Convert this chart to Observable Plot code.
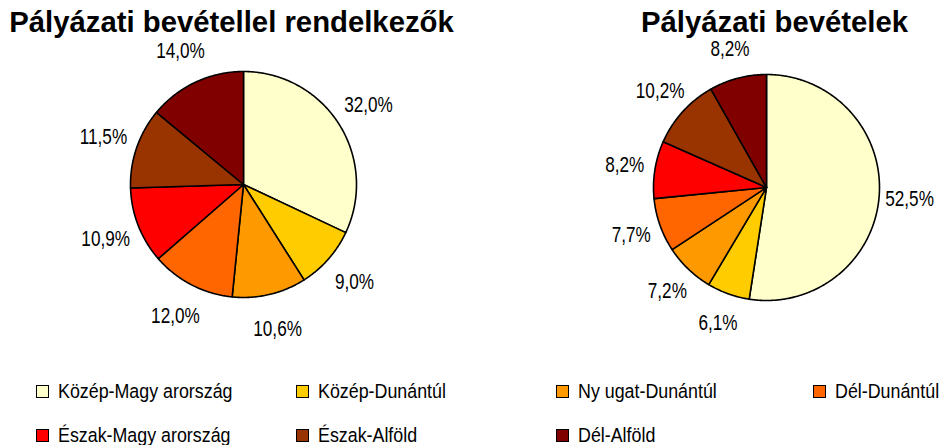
<!DOCTYPE html>
<html><head><meta charset="utf-8">
<script src="https://cdn.jsdelivr.net/npm/d3@7"></script>
<script src="https://cdn.jsdelivr.net/npm/@observablehq/plot@0.6"></script>
<style>
body{margin:0;width:939px;height:445px;overflow:hidden;background:#fff;position:relative;font-family:"Liberation Sans",Arial,sans-serif;color:#000}
.title{position:absolute;top:7px;font-weight:bold;font-size:29.3px;line-height:30px;text-align:center;white-space:nowrap}
.pie{position:absolute}
.leg{position:absolute;display:flex;align-items:center;white-space:nowrap;font-size:20.5px;height:22px}
.sw{width:13px;height:13px;box-sizing:border-box;border:1.5px solid #000;margin-right:9px;flex:none}
.lt{display:inline-block;transform:scaleX(0.87);transform-origin:0 50%}
</style></head><body>
<script>
const regions = ["Közép-Magyarország","Közép-Dunántúl","Nyugat-Dunántúl","Dél-Dunántúl","Észak-Magyarország","Észak-Alföld","Dél-Alföld"];
const legendLabels = ["Közép-Magy arország","Közép-Dunántúl","Ny ugat-Dunántúl","Dél-Dunántúl","Észak-Magy arország","Észak-Alföld","Dél-Alföld"];
const colors = ["#FFFFCC","#FFCC00","#FF9900","#FF6600","#FF0000","#993300","#800000"];
const titles = ["Pályázati bevétellel rendelkezők","Pályázati bevételek"];
const shareRecipients = [32.0, 9.0, 10.6, 12.0, 10.9, 11.5, 14.0];
const shareRevenue = [52.5, 6.1, 7.2, 7.7, 8.2, 10.2, 8.2];

const R = 113, W = 340, H = 340;
const pies = [
  {values: shareRecipients, title: titles[0], cx: 243, cy: 184, tx: 231.5, lr: 1.31},
  {values: shareRevenue, title: titles[1], cx: 766, cy: 187, tx: 774.5, lr: 1.27}
];

function slicesOf(values, lr) {
  const arcs = d3.pie().sort(null).value(d => d)(values);
  const pts = [], labels = [];
  arcs.forEach((a, i) => {
    const region = regions[i];
    pts.push({region, x: 0, y: 0});
    const n = Math.max(2, Math.ceil((a.endAngle - a.startAngle) / 0.01));
    for (let k = 0; k <= n; k++) {
      const t = a.startAngle + (a.endAngle - a.startAngle) * k / n;
      pts.push({region, x: Math.sin(t), y: Math.cos(t)});
    }
    pts.push({region, x: 0, y: 0});
    const m = (a.startAngle + a.endAngle) / 2;
    labels.push({region, x: lr * Math.sin(m), y: lr * Math.cos(m), text: values[i].toFixed(1).replace(".", ",") + "%"});
  });
  return {pts, labels};
}

pies.forEach(p => {
  const {pts, labels} = slicesOf(p.values, p.lr);
  const chart = Plot.plot({
    width: W, height: H, margin: 0,
    style: {background: "transparent", overflow: "visible"},
    x: {domain: [-W / 2 / R, W / 2 / R], axis: null},
    y: {domain: [-H / 2 / R, H / 2 / R], axis: null},
    color: {domain: regions, range: colors},
    marks: [
      Plot.line(pts, {x: "x", y: "y", z: "region", fill: "region", stroke: "#000", strokeWidth: 1.6, strokeLinejoin: "round", curve: "linear"}),
      Plot.text(labels, {x: "x", y: "y", text: "text", fontSize: 22, fontFamily: "'Liberation Sans',Arial,sans-serif", fill: "#000", textAnchor: "middle", lineAnchor: "middle"})
    ]
  });
  chart.classList.add("pie");
  chart.style.left = (p.cx - W / 2) + "px";
  chart.style.top = (p.cy - H / 2) + "px";
  document.body.appendChild(chart);
  chart.querySelectorAll("text").forEach(el => {
    const len = el.getComputedTextLength();
    el.setAttribute("textLength", (len * 0.78).toFixed(1));
    el.setAttribute("lengthAdjust", "spacingAndGlyphs");
  });
  const t = document.createElement("div");
  t.className = "title";
  t.textContent = p.title;
  t.style.left = (p.tx - 300) + "px";
  t.style.width = "600px";
  document.body.appendChild(t);
});

const colX = [36, 296, 556, 813], rowY = [391, 435];
legendLabels.forEach((lab, i) => {
  const d = document.createElement("div");
  d.className = "leg";
  d.style.left = colX[i % 4] + "px";
  d.style.top = (rowY[Math.floor(i / 4)] - 11) + "px";
  const s = document.createElement("span");
  s.className = "sw";
  s.style.background = colors[i];
  const tx = document.createElement("span");
  tx.className = "lt";
  tx.textContent = lab;
  d.appendChild(s); d.appendChild(tx);
  document.body.appendChild(d);
});
</script>
</body></html>
